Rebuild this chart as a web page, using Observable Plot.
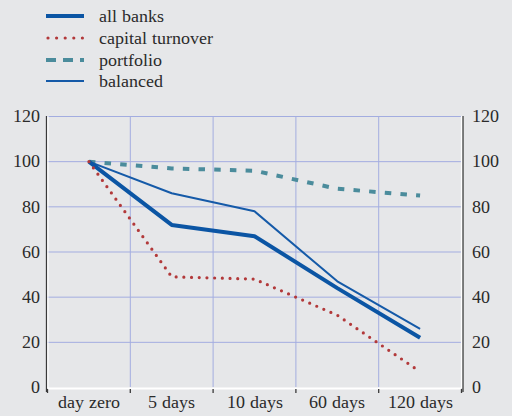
<!DOCTYPE html>
<html>
<head>
<meta charset="utf-8">
<script src="https://cdn.jsdelivr.net/npm/d3@7"></script>
<script src="https://cdn.jsdelivr.net/npm/@observablehq/plot@0.6"></script>
<style>
@font-face {
  font-family: "ChartSerif";
  src: local("Liberation Serif"), local("LiberationSerif"), local("LiberationSerif-Regular"), local("Liberation Serif Regular"), local("Times New Roman");
}
</style>
</head>
<body style="margin:0;padding:0;background:#e6e7e9;font-family:ChartSerif, 'Liberation Serif', serif">
<div id="legend"></div>
<div id="chart"></div>
<script>
const categories = ["day zero", "5 days", "10 days", "60 days", "120 days"];
const allBanks = [100, 72, 67, 44, 22];
const capitalTurnover = [100, 49, 48, 32, 7];
const portfolio = [100, 97, 96, 88, 85];
const balanced = [100, 86, 78, 47, 26];
const yTicks = [0, 20, 40, 60, 80, 100, 120];
const seriesNames = ["all banks", "capital turnover", "portfolio", "balanced"];

const FONT = "ChartSerif, 'Liberation Serif', 'Times New Roman', serif";
const FS = 18;
const TEXT = "#2b2b2b";
const GRID = "#a3ade0";
const AXIS = "#3a3a3a";

const styles = {
  "all banks":        {stroke: "#0b55a4", strokeWidth: 4, strokeDasharray: null, strokeLinecap: "butt"},
  "capital turnover": {stroke: "#b2393a", strokeWidth: 3.2, strokeDasharray: "0,7.7", strokeLinecap: "round"},
  "portfolio":        {stroke: "#4b8c9c", strokeWidth: 4, strokeDasharray: "6.5,9.2", strokeLinecap: "butt"},
  "balanced":         {stroke: "#155aa8", strokeWidth: 2, strokeDasharray: null, strokeLinecap: "butt"}
};
const legendDash = {"capital turnover": "0,8.6", "portfolio": "10,7"};

const seriesValues = {
  "all banks": allBanks,
  "capital turnover": capitalTurnover,
  "portfolio": portfolio,
  "balanced": balanced
};

const rows = seriesNames.flatMap(s =>
  categories.map((c, i) => ({series: s, category: c, pos: i + 0.5, value: seriesValues[s][i]}))
);

function render() {
  // legend
  const legDiv = document.getElementById("legend");
  legDiv.innerHTML = "";
  const leg = d3.select(legDiv).append("svg").attr("width", 512).attr("height", 96).style("display", "block");
  seriesNames.forEach((s, k) => {
    const y = [16, 38, 60, 81][k];
    const st = styles[s];
    leg.append("line")
      .attr("x1", s === "capital turnover" ? 48 : 46).attr("x2", 84)
      .attr("y1", y).attr("y2", y)
      .attr("stroke", st.stroke)
      .attr("stroke-width", s === "balanced" ? 2.2 : st.strokeWidth)
      .attr("stroke-dasharray", legendDash[s] || null)
      .attr("stroke-linecap", st.strokeLinecap);
    leg.append("text")
      .attr("x", 99).attr("y", y + 6.3)
      .attr("fill", TEXT)
      .style("font-family", FONT).style("font-size", FS + "px")
      .text(s);
  });

  // chart
  const order = ["portfolio", "balanced", "all banks", "capital turnover"];
  const lineMarks = order.map(s => {
    const st = styles[s];
    return Plot.line(rows.filter(d => d.series === s), {
      x: "pos", y: "value",
      stroke: st.stroke, strokeWidth: st.strokeWidth,
      strokeDasharray: st.strokeDasharray, strokeLinecap: st.strokeLinecap,
      strokeLinejoin: "miter"
    });
  });

  const chart = Plot.plot({
    width: 512,
    height: 320,
    marginTop: 20,
    marginBottom: 29,
    marginLeft: 47,
    marginRight: 51,
    style: {background: "#e6e7e9", fontFamily: FONT, fontSize: FS + "px", color: TEXT, display: "block"},
    x: {type: "linear", domain: [0, categories.length]},
    y: {domain: [0, 120]},
    marks: [
      Plot.gridY(yTicks.filter(t => t > 0), {stroke: GRID, strokeOpacity: 1, strokeWidth: 1}),
      Plot.gridX(d3.range(1, categories.length), {stroke: GRID, strokeOpacity: 1, strokeWidth: 1}),
      Plot.ruleY([0], {stroke: "white", strokeWidth: 2, dy: 1}),
      Plot.ruleX([0], {stroke: AXIS, strokeWidth: 1.3, dx: -1, insetBottom: -5}),
      Plot.ruleX([0], {stroke: "white", strokeWidth: 1.2, dx: 0.4, insetBottom: -1}),
      Plot.ruleX([categories.length], {stroke: AXIS, strokeWidth: 1.3, dx: 1.5, insetBottom: -5}),
      Plot.ruleX([categories.length], {stroke: "white", strokeWidth: 1.2, dx: 0, insetBottom: -1}),
      Plot.axisX(d3.range(0, categories.length + 1), {tickSize: 4, tickFormat: () => "", stroke: AXIS, dy: 2, strokeWidth: 1.3, label: null}),
      Plot.axisX(categories.map((c, i) => i + 0.5), {
        tickSize: 0, tickPadding: 8, tickFormat: (d) => categories[Math.round(d - 0.5)],
        fill: TEXT, label: null, fontFamily: FONT, fontSize: FS
      }),
      Plot.axisY(yTicks, {anchor: "left", tickSize: 0, tickPadding: 8, fill: TEXT, label: null, fontFamily: FONT, fontSize: FS}),
      Plot.axisY(yTicks, {anchor: "right", tickSize: 0, tickPadding: 10, fill: TEXT, label: null, fontFamily: FONT, fontSize: FS}),
      ...lineMarks
    ]
  });
  const chartDiv = document.getElementById("chart");
  chartDiv.innerHTML = "";
  chartDiv.appendChild(chart);
}

render();
if (document.fonts && document.fonts.load) {
  document.fonts.load(FS + "px ChartSerif").then(render, () => {});
}
</script>
</body>
</html>
